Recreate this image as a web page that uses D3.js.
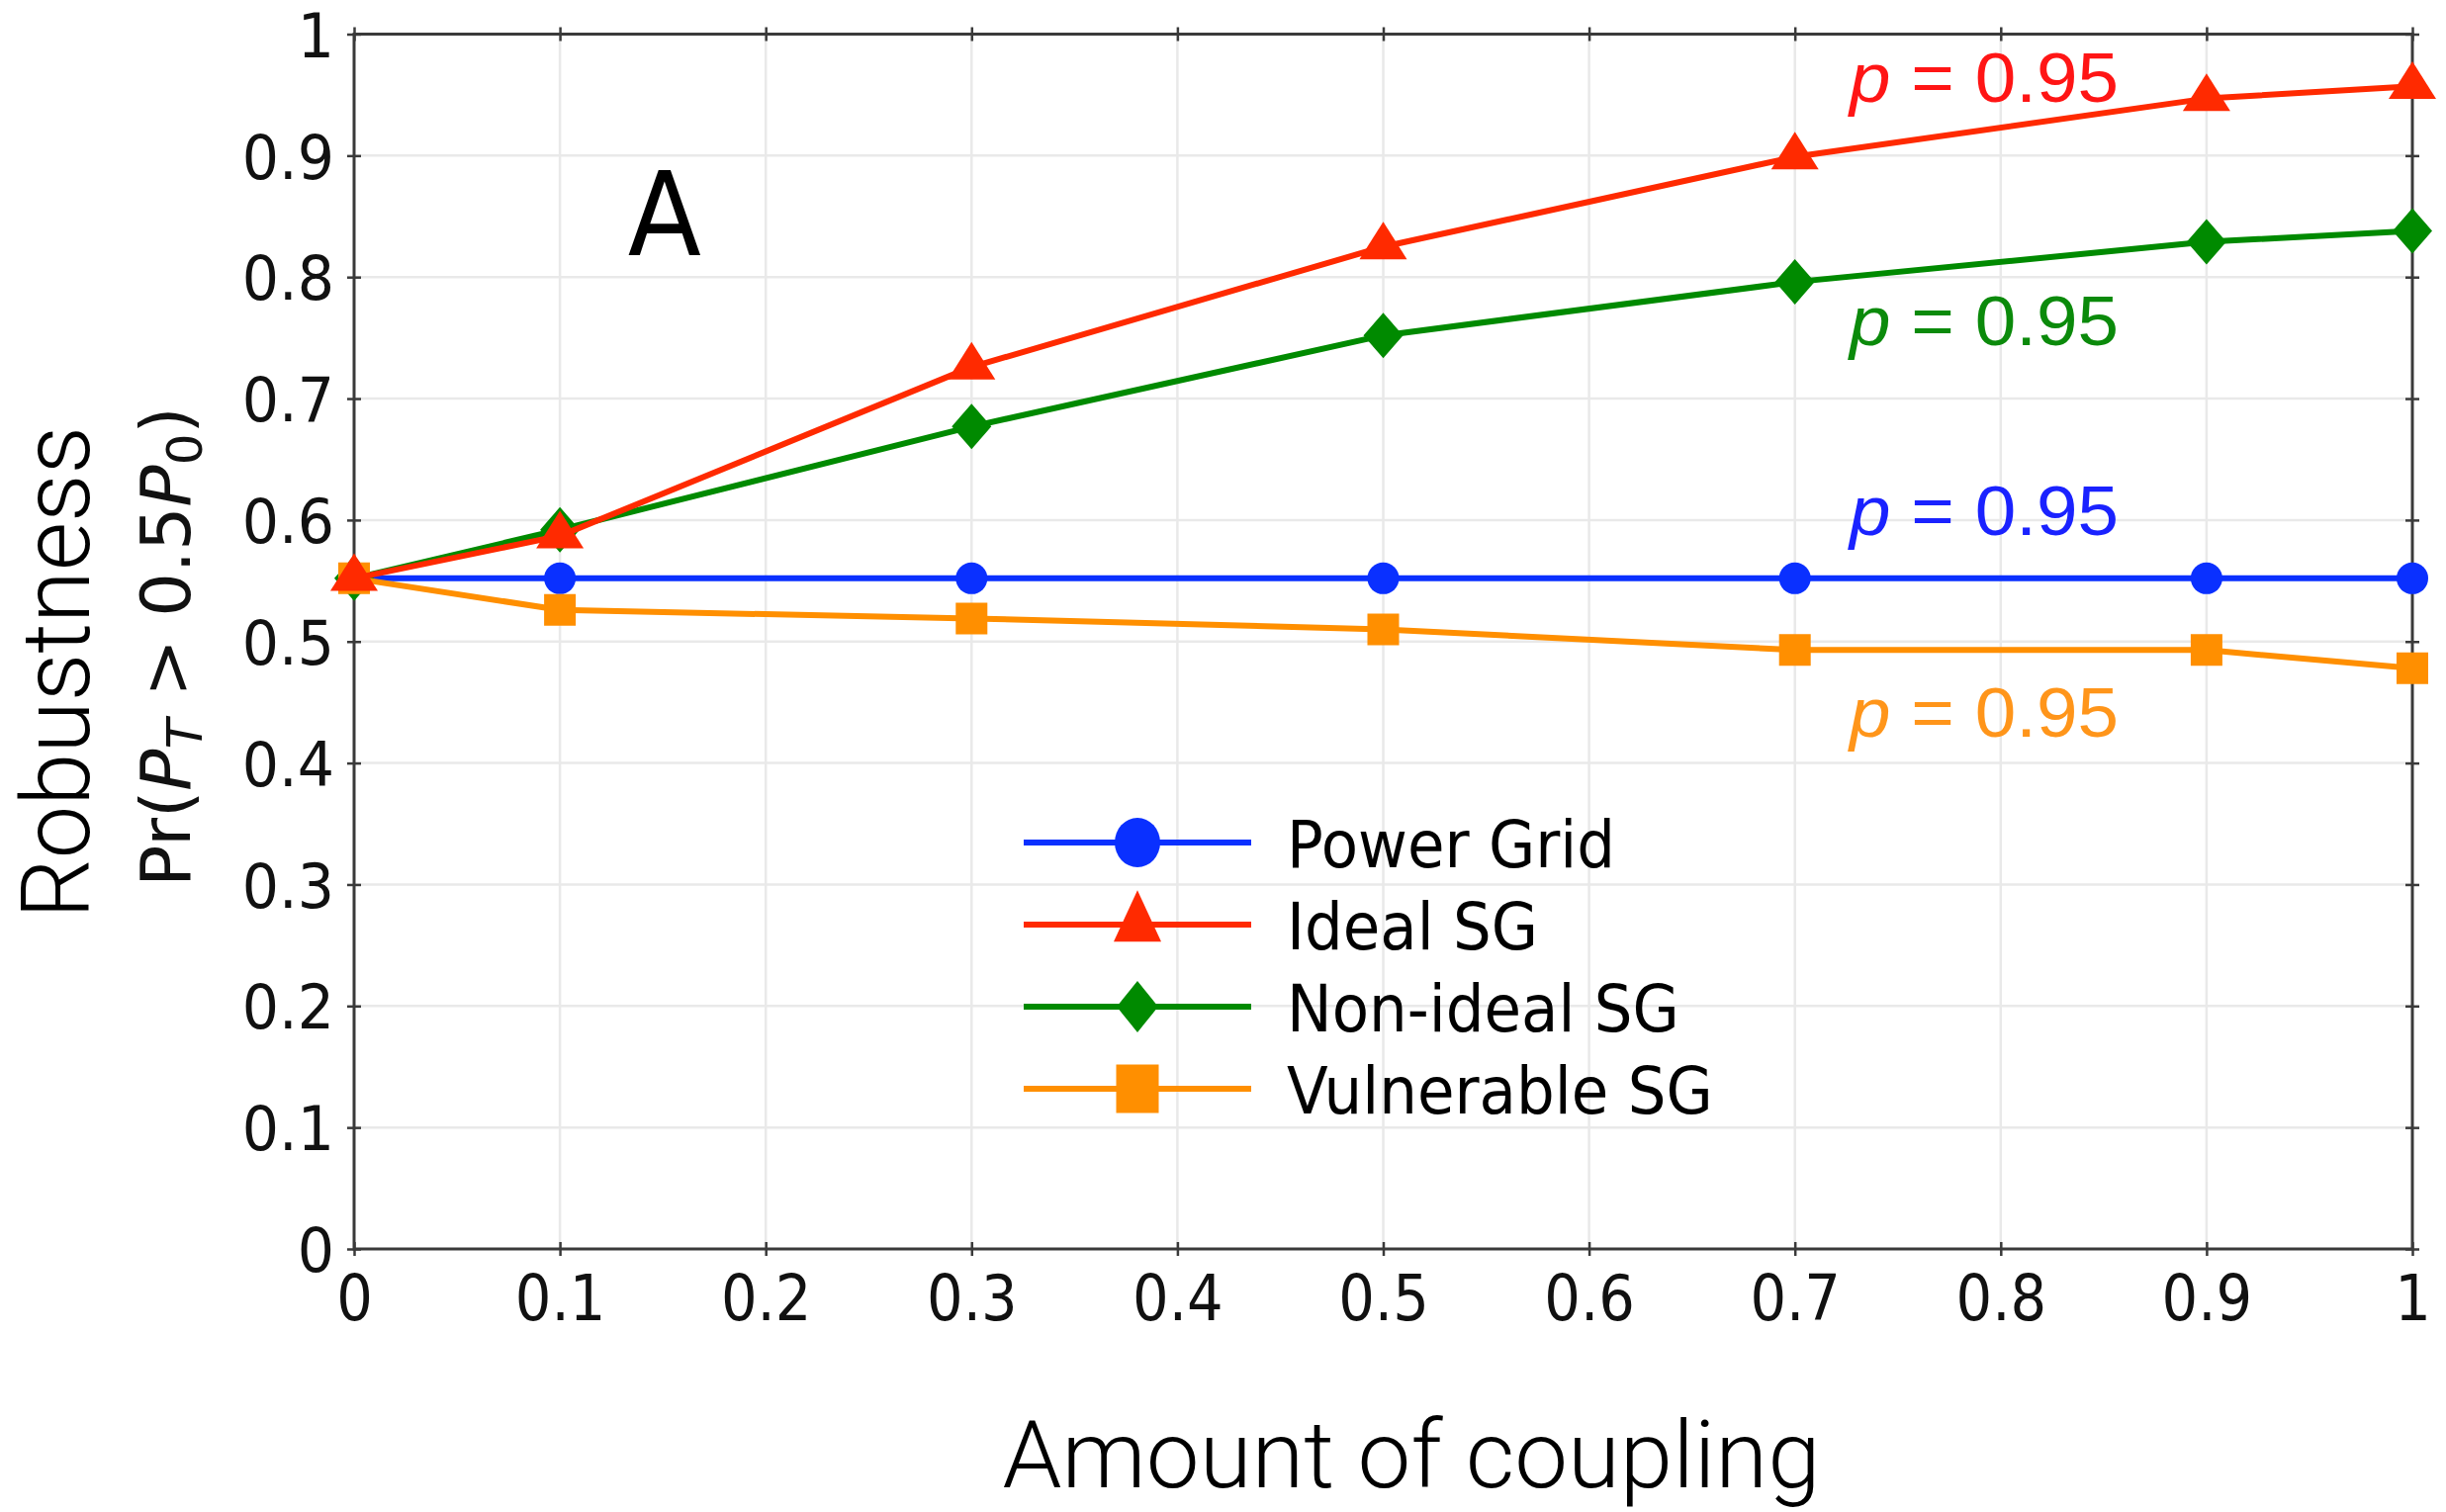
<!DOCTYPE html>
<html>
<head>
<meta charset="utf-8">
<script src="https://cdn.jsdelivr.net/npm/d3@7"></script>
<style>
  html, body { margin: 0; padding: 0; background: #ffffff; }
  svg { display: block; }
</style>
</head>
<body>
<svg id="chart" width="2473" height="1529"></svg>
<script>
// Robustness vs. amount of coupling for four grid configurations
const couplingLevels = [0, 0.1, 0.3, 0.5, 0.7, 0.9, 1];

const seriesNames = ["Power Grid", "Ideal SG", "Non-ideal SG", "Vulnerable SG"];
const powerGrid    = [0.552, 0.552, 0.552, 0.552, 0.552, 0.552, 0.552];
const idealSG      = [0.552, 0.587, 0.726, 0.825, 0.899, 0.947, 0.957];
const nonIdealSG   = [0.552, 0.592, 0.677, 0.752, 0.796, 0.829, 0.838];
const vulnerableSG = [0.552, 0.526, 0.519, 0.510, 0.493, 0.493, 0.478];

const xTickValues = [0, 0.1, 0.2, 0.3, 0.4, 0.5, 0.6, 0.7, 0.8, 0.9, 1];
const xTickLabels = ["0", "0.1", "0.2", "0.3", "0.4", "0.5", "0.6", "0.7", "0.8", "0.9", "1"];
const yTickValues = [0, 0.1, 0.2, 0.3, 0.4, 0.5, 0.6, 0.7, 0.8, 0.9, 1];
const yTickLabels = ["0", "0.1", "0.2", "0.3", "0.4", "0.5", "0.6", "0.7", "0.8", "0.9", "1"];

const annotationText = "0.95";

// ---- layout & styling ----
const plot = { left: 358, right: 2439, top: 34.5, bottom: 1263 };
const styles = [
  { line: "#0a30ff", text: "#1a22ff", shape: "circle" },
  { line: "#ff2a00", text: "#ff1515", shape: "triangle" },
  { line: "#008a00", text: "#0b8a0b", shape: "diamond" },
  { line: "#ff8f00", text: "#ff951a", shape: "square" }
];
// where each "p = 0.95" note sits, in data units (x of left edge, y of baseline)
const notePlacement = [
  { x: 0.7266, y: 0.5877 },
  { x: 0.7266, y: 0.9442 },
  { x: 0.7266, y: 0.7436 },
  { x: 0.7266, y: 0.4217 }
];
const plotMarker = {
  circle:   { w: 32, h: 32 },
  triangle: { w: 48, h: 38 },
  diamond:  { w: 40, h: 46 },
  square:   { w: 32, h: 32 }
};
const legendMarker = {
  circle:   { w: 46, h: 50 },
  triangle: { w: 48, h: 52 },
  diamond:  { w: 42, h: 52 },
  square:   { w: 43, h: 49 }
};

function markerPath(shape, w, h) {
  const a = w / 2, b = h / 2;
  if (shape === "circle") {
    return `M${-a},0A${a},${b} 0 1,0 ${a},0A${a},${b} 0 1,0 ${-a},0Z`;
  }
  if (shape === "triangle") {
    return `M0,${-2 * h / 3}L${a},${h / 3}L${-a},${h / 3}Z`;
  }
  if (shape === "diamond") {
    return `M0,${-b}L${a},0L0,${b}L${-a},0Z`;
  }
  return `M${-a},${-b}H${a}V${b}H${-a}Z`;
}

const svg = d3.select("#chart");

const x = d3.scaleLinear().domain([0, 1]).range([plot.left, plot.right]);
const y = d3.scaleLinear().domain([0, 1]).range([plot.bottom, plot.top]);

// grid
const grid = svg.append("g").attr("stroke", "#e9e9e9").attr("stroke-width", 2.5);
grid.selectAll("line.v").data(xTickValues.slice(1, -1)).join("line")
  .attr("x1", d => x(d)).attr("x2", d => x(d))
  .attr("y1", plot.top).attr("y2", plot.bottom);
grid.selectAll("line.h").data(yTickValues.slice(1, -1)).join("line")
  .attr("x1", plot.left).attr("x2", plot.right)
  .attr("y1", d => y(d)).attr("y2", d => y(d));

// axes (ticks straddle the frame)
const tickFont = "'DejaVu Sans', sans-serif";
const axisColor = "#3a3a3a";

function styleAxis(g, vertical) {
  g.select(".domain").remove();
  g.selectAll(".tick line")
    .attr("stroke", axisColor).attr("stroke-width", 2.5)
    .attr(vertical ? "x1" : "y1", -7).attr(vertical ? "x2" : "y2", 7);
}

const xAxis = d3.axisBottom(x).tickValues(xTickValues)
  .tickFormat((d, i) => xTickLabels[i]).tickSize(0);
const gx = svg.append("g").attr("transform", `translate(0,${plot.bottom})`).call(xAxis);
styleAxis(gx, false);
gx.selectAll(".tick text")
  .attr("font-family", tickFont).attr("font-size", 64).attr("fill", "#111")
  .attr("y", 27).attr("dy", "0.71em")
  .attr("transform", "scale(0.9,1)");

const xAxisTop = d3.axisTop(x).tickValues(xTickValues).tickFormat("").tickSize(0);
const gxt = svg.append("g").attr("transform", `translate(0,${plot.top})`).call(xAxisTop);
styleAxis(gxt, false);

const yAxis = d3.axisLeft(y).tickValues(yTickValues)
  .tickFormat((d, i) => yTickLabels[i]).tickSize(0);
const gy = svg.append("g").attr("transform", `translate(${plot.left},0)`).call(yAxis);
styleAxis(gy, true);
gy.selectAll(".tick text")
  .attr("font-family", tickFont).attr("font-size", 63).attr("fill", "#111")
  .attr("x", -21.5).attr("dy", "0.36em")
  .attr("transform", "scale(0.93,1)");

const yAxisRight = d3.axisRight(y).tickValues(yTickValues).tickFormat("").tickSize(0);
const gyr = svg.append("g").attr("transform", `translate(${plot.right},0)`).call(yAxisRight);
styleAxis(gyr, true);

// frame
svg.append("rect")
  .attr("x", plot.left).attr("y", plot.top)
  .attr("width", plot.right - plot.left).attr("height", plot.bottom - plot.top)
  .attr("fill", "none").attr("stroke", axisColor).attr("stroke-width", 3);

// series
const seriesValues = [powerGrid, idealSG, nonIdealSG, vulnerableSG];
const drawOrder = [0, 2, 3, 1];
const line = d3.line().x(d => x(d[0])).y(d => y(d[1]));

drawOrder.forEach(si => {
  const pts = couplingLevels.map((c, i) => [c, seriesValues[si][i]]);
  const st = styles[si];
  const g = svg.append("g");
  g.append("path").datum(pts).attr("d", line)
    .attr("fill", "none").attr("stroke", st.line)
    .attr("stroke-width", 6).attr("stroke-linejoin", "round");
  const m = plotMarker[st.shape];
  g.selectAll("path.mk").data(pts).join("path").attr("class", "mk")
    .attr("transform", d => `translate(${x(d[0])},${y(d[1])})`)
    .attr("d", markerPath(st.shape, m.w, m.h))
    .attr("fill", st.line);
});

// "p = 0.95" notes
seriesValues.forEach((vals, si) => {
  const t = svg.append("text")
    .attr("x", x(notePlacement[si].x)).attr("y", y(notePlacement[si].y))
    .attr("font-family", "'Liberation Sans', Arial, sans-serif")
    .attr("font-size", 70).attr("fill", styles[si].text)
    .attr("textLength", 272).attr("lengthAdjust", "spacingAndGlyphs");
  t.append("tspan").attr("font-style", "italic").text("p");
  t.append("tspan").text(" = " + annotationText);
});

// panel letter
svg.append("text")
  .attr("transform", "translate(672,258) scale(0.92,1)")
  .attr("text-anchor", "middle")
  .attr("font-family", tickFont).attr("font-size", 118).attr("fill", "#000")
  .text("A");

// legend
const legend = svg.append("g");
seriesNames.forEach((name, i) => {
  const rowY = 852 + i * 83;
  const st = styles[i];
  legend.append("line")
    .attr("x1", 1035).attr("x2", 1265).attr("y1", rowY).attr("y2", rowY)
    .attr("stroke", st.line).attr("stroke-width", 6);
  const m = legendMarker[st.shape];
  legend.append("path")
    .attr("transform", `translate(1150,${rowY})`)
    .attr("d", markerPath(st.shape, m.w, m.h))
    .attr("fill", st.line);
  legend.append("text")
    .attr("transform", `translate(1301,${rowY + 25}) scale(0.925,1)`)
    .attr("font-family", tickFont).attr("font-size", 66).attr("fill", "#000")
    .text(name);
});

// axis titles
const titleFont = "Roboto, 'Liberation Sans', sans-serif";
svg.append("text")
  .attr("transform", "translate(1427,1504)")
  .attr("text-anchor", "middle")
  .attr("font-family", titleFont).attr("font-weight", 300)
  .attr("font-size", 94).attr("fill", "#000")
  .attr("textLength", 827).attr("lengthAdjust", "spacingAndGlyphs")
  .text("Amount of coupling");

svg.append("text")
  .attr("transform", "translate(90,680) rotate(-90)")
  .attr("text-anchor", "middle")
  .attr("font-family", titleFont).attr("font-weight", 300)
  .attr("font-size", 96).attr("fill", "#000")
  .attr("textLength", 498).attr("lengthAdjust", "spacingAndGlyphs")
  .text("Robustness");

const pr = svg.append("text")
  .attr("transform", "translate(192,654) rotate(-90)")
  .attr("text-anchor", "middle")
  .attr("font-family", tickFont).attr("font-size", 70).attr("fill", "#111");
pr.append("tspan").text("Pr(");
pr.append("tspan").attr("font-style", "italic").text("P");
pr.append("tspan").attr("font-style", "italic").attr("font-size", 50).attr("dy", 12).text("T");
pr.append("tspan").attr("dy", -12).text(" > 0.5");
pr.append("tspan").attr("font-style", "italic").text("P");
pr.append("tspan").attr("font-size", 50).attr("dy", 12).text("0");
pr.append("tspan").attr("dy", -12).text(")");
</script>
</body>
</html>
